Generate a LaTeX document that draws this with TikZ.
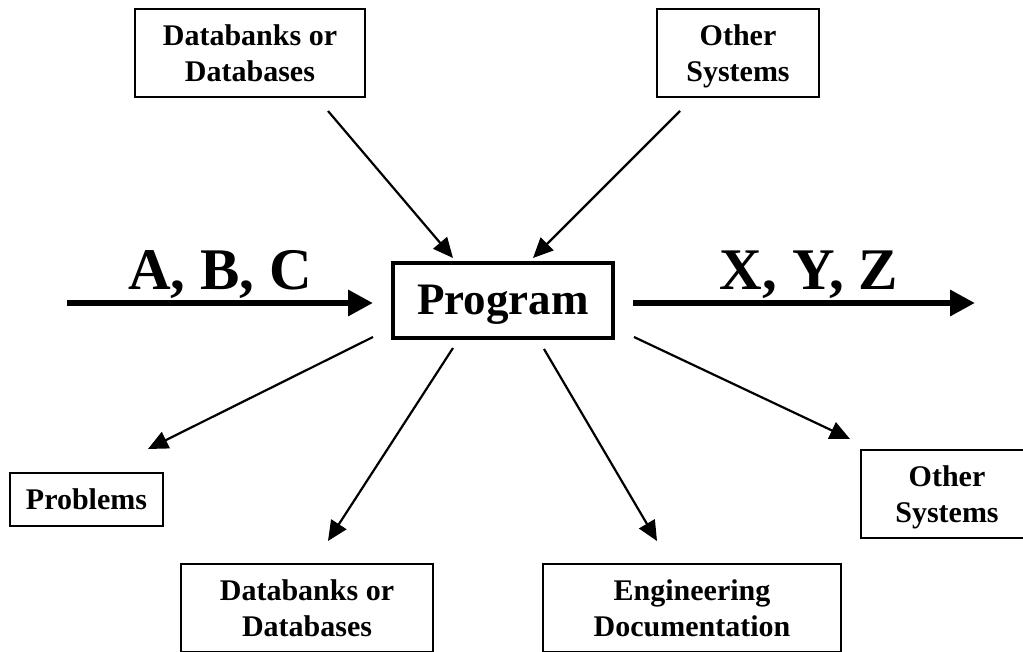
\documentclass[tikz,border=0pt]{standalone}
\usepackage{fontspec}
\setmainfont{Liberation Serif}
\usetikzlibrary{arrows.meta}
\begin{document}
\begin{tikzpicture}[x=1pt,y=-1pt,
  box/.style={draw,line width=1.4pt,rectangle,inner sep=0pt,align=center,
    text depth=0pt,font=\fontsize{30}{36}\selectfont\bfseries},
  mainbox/.style={draw,line width=3.5pt,rectangle,inner sep=0pt,
    font=\fontsize{45}{54}\selectfont\bfseries,text height=30pt,text depth=1pt},
  flow/.style={line width=2.2pt,-{Triangle[length=20pt,width=18pt]}},
  bigflow/.style={line width=6.5pt,-{Triangle[length=25pt,width=25pt]}},
  biglabel/.style={anchor=base,font=\fontsize{59}{60}\selectfont\bfseries}]
\useasboundingbox (0,0) rectangle (1023,652);

% boxes
\node[mainbox,minimum width=220pt,minimum height=75pt] (prog) at (503,300.5) {Program};
\node[box,minimum width=230pt,minimum height=88pt] (dbin) at (250,53) {Databanks or\\Databases};
\node[box,minimum width=162pt,minimum height=88pt] (sysin) at (738,53) {Other\\Systems};
\node[box,minimum width=153pt,minimum height=53pt] (prob) at (86.5,499.5) {Problems};
\node[box,minimum width=252pt,minimum height=88pt] (dbout) at (307,608) {Databanks or\\Databases};
\node[box,minimum width=298pt,minimum height=88pt] (eng) at (692,608) {Engineering\\Documentation};
\node[box,minimum width=172pt,minimum height=88pt] (sysout) at (947,494) {Other\\Systems};

% arrow end points
\coordinate (dbinA) at (328,111);   \coordinate (dbinB) at (453,258);
\coordinate (sysinA) at (680,111);  \coordinate (sysinB) at (533,258);
\coordinate (inA) at (67,303);      \coordinate (inB) at (373,303);
\coordinate (outA) at (633,303);    \coordinate (outB) at (975,303);
\coordinate (probA) at (373,337);   \coordinate (probB) at (148,449);
\coordinate (dboutA) at (453,348);  \coordinate (dboutB) at (328,541);
\coordinate (engA) at (544,349);    \coordinate (engB) at (657,541);
\coordinate (sysoutA) at (634,337); \coordinate (sysoutB) at (850,439);

% inputs and outputs
\draw[flow] (dbinA) -- (dbinB);
\draw[flow] (sysinA) -- (sysinB);
\draw[bigflow] (inA) -- (inB);
\draw[bigflow] (outA) -- (outB);
\draw[flow] (probA) -- (probB);
\draw[flow] (dboutA) -- (dboutB);
\draw[flow] (engA) -- (engB);
\draw[flow] (sysoutA) -- (sysoutB);

\node[biglabel] (abc) at (220,290) {A, B, C};
\node[biglabel] (xyz) at (809,290) {X, Y, Z};
\end{tikzpicture}
\end{document}
